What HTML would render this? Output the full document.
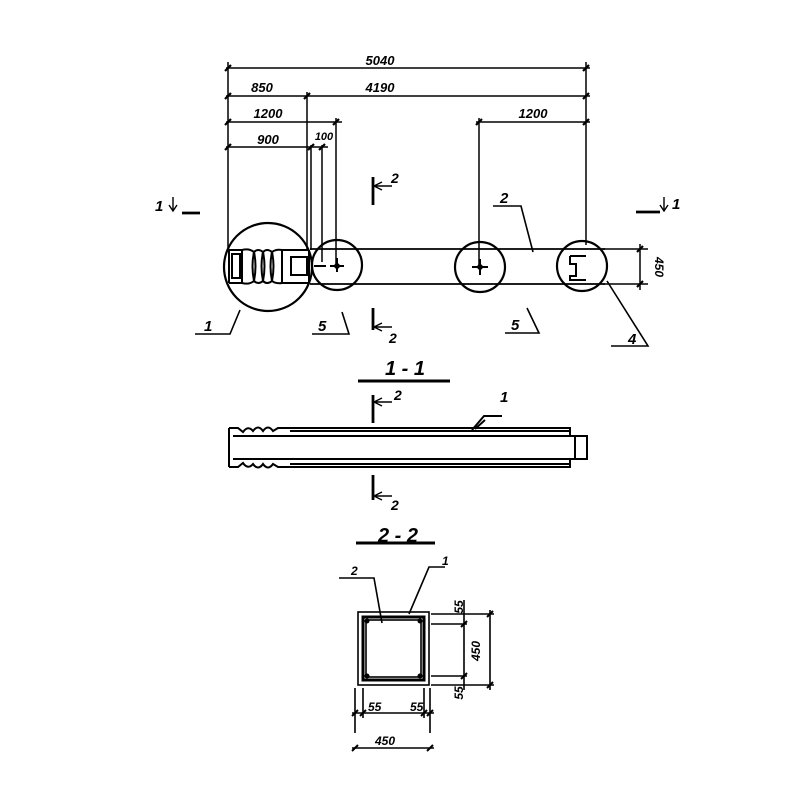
<!DOCTYPE html>
<html><head><style>body{margin:0;background:#fff}svg{display:block}text{font-family:"Liberation Sans",sans-serif;font-style:italic;fill:#000;font-weight:bold}</style></head>
<body>
<svg width="800" height="800" viewBox="0 0 800 800" xmlns="http://www.w3.org/2000/svg" stroke="#000" fill="none" stroke-width="1.8">
<g stroke-width="1.5">
<line x1="226" y1="68" x2="590" y2="68"/>
<line x1="226" y1="96" x2="590" y2="96"/>
<line x1="226" y1="122" x2="342" y2="122"/>
<line x1="226" y1="147" x2="328" y2="147"/>
<line x1="476" y1="122" x2="590" y2="122"/>
<line x1="228" y1="62" x2="228" y2="252"/>
<line x1="586" y1="62" x2="586" y2="245"/>
<line x1="307" y1="92" x2="307" y2="250"/>
<line x1="311" y1="145" x2="311" y2="250"/>
<line x1="322" y1="145" x2="322" y2="262"/>
<line x1="336" y1="118" x2="336" y2="265"/>
<line x1="479" y1="118" x2="479" y2="265"/>
<line x1="603" y1="249" x2="648" y2="249"/>
<line x1="603" y1="284" x2="648" y2="284"/>
<line x1="640" y1="244" x2="640" y2="290"/>
</g>
<g stroke-width="2.2">
<path d="M225 71l6-6M225 99l6-6M304 99l6-6M583 71l6-6M583 99l6-6M225 125l6-6M333 125l6-6M225 150l6-6M308 150l6-6M319 150l6-6M476 125l6-6M583 125l6-6M637 252l6-6M637 287l6-6"/>
</g>
<g font-size="13">
<text x="380" y="65" stroke="none" text-anchor="middle">5040</text>
<text x="262" y="92" stroke="none" text-anchor="middle">850</text>
<text x="380" y="92" stroke="none" text-anchor="middle">4190</text>
<text x="268" y="118" stroke="none" text-anchor="middle">1200</text>
<text x="268" y="144" stroke="none" text-anchor="middle">900</text>
<text x="324" y="140" stroke="none" text-anchor="middle" font-size="11">100</text>
<text x="533" y="118" stroke="none" text-anchor="middle">1200</text>
<text x="0" y="0" stroke="none" font-size="12" transform="translate(655,267) rotate(90)" text-anchor="middle">450</text>
</g>
<line x1="310" y1="249" x2="605" y2="249"/>
<line x1="310" y1="284" x2="605" y2="284"/>
<circle cx="268" cy="267" r="44" stroke-width="2.2"/>
<circle cx="337" cy="265" r="25" stroke-width="2.2"/>
<circle cx="480" cy="267" r="25" stroke-width="2.2"/>
<circle cx="582" cy="266" r="25" stroke-width="2.2"/>
<g stroke-width="2">
<path d="M229 250v33M229 250h13M229 283h13"/>
<rect x="232" y="254" width="8" height="24"/>
<path d="M242 250q7 -2 12 2q4 -4 9 0q4 -4 9 0q4 -3 10 -2h27M242 283q7 2 12 -2q4 4 9 0q4 4 9 0q4 3 10 2h27"/>
<path d="M242 250v33M254 252q-3 14 0 29M254 252q3 14 0 29M263 252q-3 14 0 29M263 252q3 14 0 29M272 252q-3 14 0 29M272 252q3 14 0 29M282 250v33"/>
<path d="M309 250v33"/>
<rect x="291" y="257" width="16" height="18"/>
<path d="M314 266h12M330 266h14M337 258v14M472 267h16M480 259v16"/>
<path d="M570 256h16M570 256v8h6v12h-6v4h16"/>
</g>
<circle cx="337" cy="266" r="2" fill="#000"/>
<circle cx="480" cy="267" r="2" fill="#000"/>
<g stroke-width="1.6">
<path d="M195 334h35l10-24M312 334h37l-7-22M505 333h34l-12-25M611 346h37l-41-65M493 206h28l12 46"/>
</g>
<g font-size="15" stroke="none">
<text x="204" y="331">1</text><text x="318" y="331">5</text><text x="511" y="330">5</text><text x="628" y="344">4</text><text x="500" y="203">2</text>
</g>
<g stroke-width="2.8"><line x1="373" y1="177" x2="373" y2="205"/><line x1="373" y1="308" x2="373" y2="330"/><line x1="373" y1="395" x2="373" y2="423"/><line x1="373" y1="475" x2="373" y2="500"/>
<line x1="182" y1="213" x2="200" y2="213"/><line x1="636" y1="212" x2="660" y2="212"/></g>
<g stroke-width="1.4"><path d="M374 186h18M382 182l-8 4 8 4M374 327h18M382 323l-8 4 8 4M374 402h18M382 398l-8 4 8 4M374 496h18M382 492l-8 4 8 4M173 197v14M169 205l4 6 4-6M664 197v14M660 205l4 6 4-6"/></g>
<g font-size="14" stroke="none">
<text x="391" y="183">2</text><text x="389" y="343">2</text><text x="394" y="400">2</text><text x="391" y="510">2</text>
<text x="155" y="211" font-size="15">1</text><text x="672" y="209" font-size="15">1</text>
</g>
<text x="405" y="375" font-size="20" stroke="none" text-anchor="middle">1 - 1</text>
<line x1="358" y1="381" x2="450" y2="381" stroke-width="3"/>
<g stroke-width="2">
<path d="M229 428v39M229 428h9l5 4 q5 -7 10 -1q5 -7 10 0q5 -7 10 0l5 -3h292v8M229 467h9l5 -4q5 7 10 1q5 7 10 0q5 7 10 0l5 3h292v-7"/>
<path d="M290 431h280M233 436h337M233 459h337M290 464h280"/>
<path d="M570 436h17v23h-17M575 436v23"/>
<path d="M472 430l12-14h18M485 420l-10 9"/>
</g>
<text x="500" y="402" font-size="15" stroke="none">1</text>
<text x="398" y="542" font-size="20" stroke="none" text-anchor="middle">2 - 2</text>
<line x1="356" y1="543" x2="435" y2="543" stroke-width="3"/>
<g stroke-width="1.6">
<rect x="358" y="612" width="71" height="73"/>
<rect x="363" y="617" width="61" height="63" stroke-width="3"/>
<rect x="366" y="620" width="55" height="57"/>
<path d="M339 578h35l8 45M409 614l20-47h16"/>
<path d="M431 614h63M431 624h36M431 676h36M431 685h63M490 610v80M464 600v90M355 688v45M363 688v30M424 688v30M430 688v45M352 713h82M352 748h82"/>
</g>
<g stroke-width="2"><path d="M487 617l6-6M487 688l6-6M461 627l6-6M461 679l6-6M352 716l6-6M360 716l6-6M421 716l6-6M427 716l6-6M352 751l6-6M427 751l6-6"/></g>
<g fill="#000" stroke="none"><circle cx="367" cy="621" r="2.5"/><circle cx="420" cy="621" r="2.5"/><circle cx="367" cy="676" r="2.5"/><circle cx="420" cy="676" r="2.5"/></g>
<g font-size="12" stroke="none">
<text x="351" y="575">2</text><text x="442" y="565">1</text>
<text x="368" y="711">55</text><text x="410" y="711">55</text><text x="375" y="745">450</text>
<text x="0" y="0" transform="translate(480,651) rotate(-90)" text-anchor="middle">450</text>
<text x="0" y="0" transform="translate(463,607) rotate(-90)" text-anchor="middle">55</text>
<text x="0" y="0" transform="translate(463,693) rotate(-90)" text-anchor="middle">55</text>
</g>
</svg>
</body></html>
